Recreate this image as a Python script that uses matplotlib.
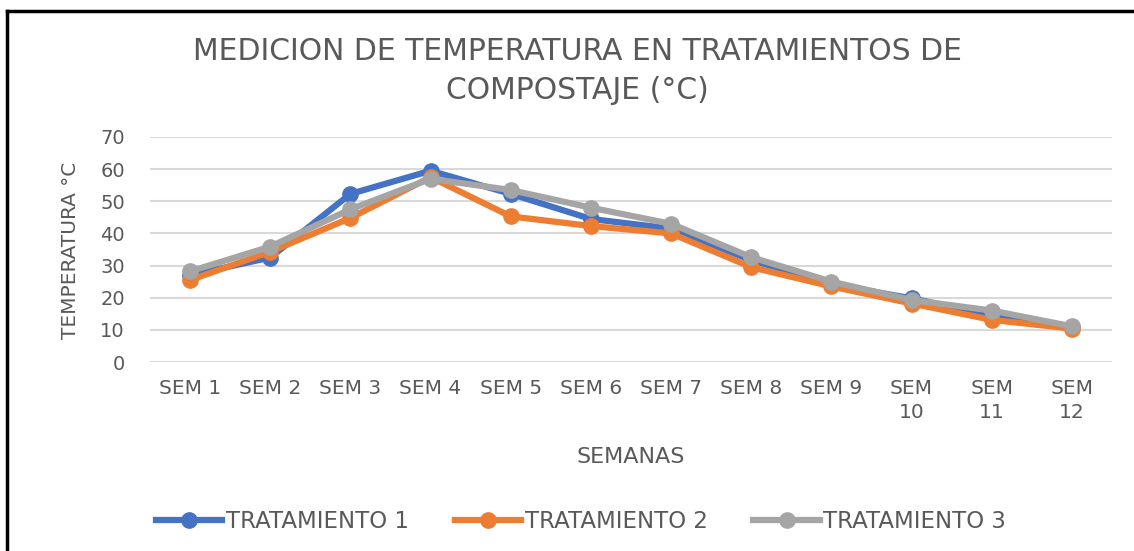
import matplotlib
matplotlib.use("Agg")
from matplotlib import pyplot as plt
from matplotlib.lines import Line2D

plt.rcParams['font.family'] = ['DejaVu Sans']

semanas = ["SEM 1", "SEM 2", "SEM 3", "SEM 4", "SEM 5", "SEM 6", "SEM 7",
           "SEM 8", "SEM 9", "SEM\n10", "SEM\n11", "SEM\n12"]
tratamiento_1 = [27.0, 32.5, 52.3, 59.5, 52.3, 44.5, 41.5, 31.7, 24.2, 19.8, 14.5, 10.8]
tratamiento_2 = [25.5, 34.3, 44.8, 57.5, 45.3, 42.3, 40.0, 29.5, 23.5, 18.2, 13.1, 10.4]
tratamiento_3 = [28.2, 35.9, 47.5, 57.0, 53.5, 48.0, 43.0, 32.6, 25.0, 19.3, 16.0, 11.1]

series = [("TRATAMIENTO 1", tratamiento_1, "#4472C4"),
          ("TRATAMIENTO 2", tratamiento_2, "#ED7D31"),
          ("TRATAMIENTO 3", tratamiento_3, "#A5A5A5")]

text_color = "#595959"

fig = plt.figure(figsize=(11.34, 5.51), dpi=100)
ax = fig.add_axes([150 / 1134, 1 - 362 / 551, (1112 - 150) / 1134, (362 - 137) / 551])

x = list(range(len(semanas)))
handles = []
for name, vals, color in series:
    ax.plot(x, vals, color=color, lw=4.5, marker="o", markersize=11,
            solid_capstyle="round", label=name)
    handles.append(Line2D([0], [0], color=color, lw=4.5, marker="o",
                          markersize=11, label=name))

ax.set_xlim(-0.5, len(semanas) - 0.5)
ax.set_ylim(0, 70)
ax.set_yticks(range(0, 71, 10))
ax.set_xticks(x)
ax.set_xticklabels(semanas, fontsize=14.5, color=text_color, linespacing=1.35)
ax.tick_params(axis="y", labelsize=14, labelcolor=text_color, length=0, pad=18)
ax.tick_params(axis="x", length=0, pad=12)
ax.grid(axis="y", color="#D9D9D9", lw=1.5)
ax.set_axisbelow(True)
for s in ax.spines.values():
    s.set_visible(False)

fig.text(70 / 1134, 1 - 250 / 551, "TEMPERATURA °C", fontsize=14.5, color=text_color,
         rotation=90, ha="center", va="center")
fig.text(631 / 1134, 1 - 457 / 551, "SEMANAS", fontsize=16, color=text_color,
         ha="center", va="center")
fig.text(577 / 1134, 1 - 71 / 551,
         "MEDICION DE TEMPERATURA EN TRATAMIENTOS DE\nCOMPOSTAJE (°C)",
         fontsize=21.5, color=text_color, ha="center", va="center", linespacing=1.4)

fig.legend(handles=handles, loc="center", bbox_to_anchor=(581 / 1134, 1 - 522 / 551),
           ncol=3, frameon=False, fontsize=16.5, labelcolor=text_color,
           handlelength=2.9, handletextpad=0.15, columnspacing=2.0)

# chart border (only top and left visible in the crop)
fig.add_artist(Line2D([7 / 1134, 7 / 1134], [0, 1 - 11 / 551], color="black", lw=2.5,
                      transform=fig.transFigure))
fig.add_artist(Line2D([7 / 1134, 1], [1 - 11 / 551, 1 - 11 / 551], color="black", lw=2.5,
                      transform=fig.transFigure))

fig.savefig("out.png", dpi=100)
